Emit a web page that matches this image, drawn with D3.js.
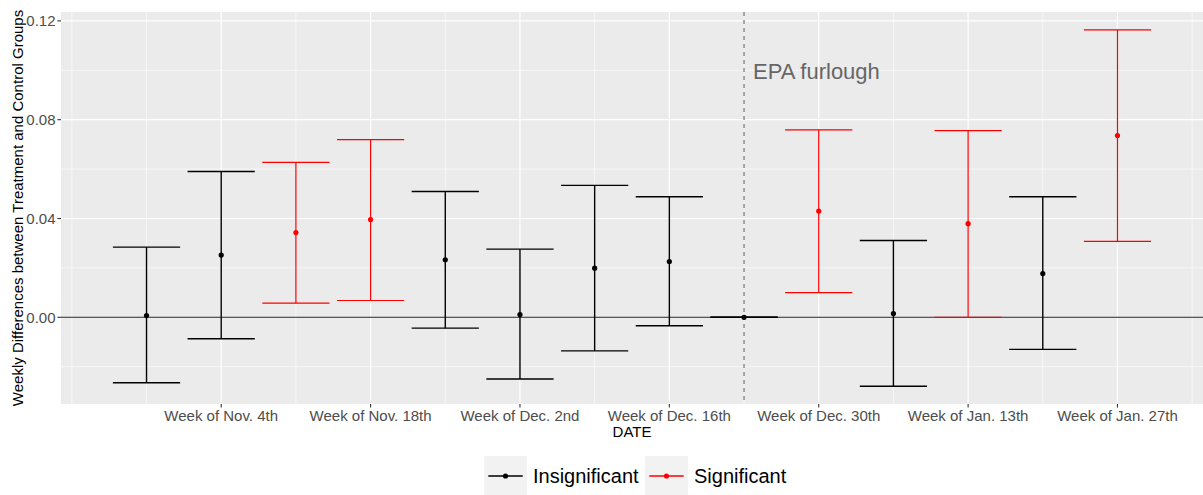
<!DOCTYPE html>
<html>
<head>
<meta charset="utf-8">
<script src="https://cdn.jsdelivr.net/npm/d3@7"></script>
<style>
  body { margin: 0; background: #fff; }
  svg { display: block; font-family: "Liberation Sans", Arial, sans-serif; }
</style>
</head>
<body>
<div id="chart"></div>
<script>
// weekly estimates, one per week (week starting date)
var weeks = ["2018-10-28","2018-11-04","2018-11-11","2018-11-18","2018-11-25","2018-12-02","2018-12-09",
             "2018-12-16","2018-12-23","2018-12-30","2019-01-06","2019-01-13","2019-01-20","2019-01-27"];
var estimate = [0.0007, 0.0252, 0.0343, 0.0396, 0.0233, 0.0011, 0.0199, 0.0226, 0.0, 0.0430, 0.0015, 0.0379, 0.0177, 0.0736];
var upper    = [0.0284, 0.0590, 0.0627, 0.0719, 0.0509, 0.0276, 0.0534, 0.0488, 0.0, 0.0759, 0.0311, 0.0756, 0.0488, 0.1164];
var lower    = [-0.0265, -0.0087, 0.0057, 0.0068, -0.0044, -0.0250, -0.0136, -0.0034, 0.0, 0.0100, -0.0279, 0.0, -0.0130, 0.0307];
var signif   = ["Insignificant","Insignificant","Significant","Significant","Insignificant","Insignificant","Insignificant",
                "Insignificant","Insignificant","Significant","Insignificant","Significant","Insignificant","Significant"];

var tickDates  = ["2018-11-04","2018-11-18","2018-12-02","2018-12-16","2018-12-30","2019-01-13","2019-01-27"];
var tickLabels = ["Week of Nov. 4th","Week of Nov. 18th","Week of Dec. 2nd","Week of Dec. 16th",
                  "Week of Dec. 30th","Week of Jan. 13th","Week of Jan. 27th"];
var minorDates = ["2018-10-21","2018-10-28","2018-11-11","2018-11-25","2018-12-09","2018-12-23",
                  "2019-01-06","2019-01-20","2019-02-03"];
var yMajor = [0.00, 0.04, 0.08, 0.12];
var yMinor = [-0.02, 0.02, 0.06, 0.10];

var furloughDate = "2018-12-23";
var groups = ["Insignificant","Significant"];
var groupColors = ["#000000","#ff0000"];

var width = 1203, height = 495;
var panel = {left: 61, right: 1203, top: 12, bottom: 404};
var parse = d3.utcParse("%Y-%m-%d");
var WEEK = 7*24*3600*1000;

var data = weeks.map(function(w, i){
  return {date: parse(w), est: estimate[i], lo: lower[i], hi: upper[i], grp: signif[i]};
});

var first = data[0].date, last = data[data.length-1].date;
var pad = 1.145*WEEK;
var x = d3.scaleUtc()
  .domain([new Date(+first - pad), new Date(+last + pad)])
  .range([panel.left, panel.right]);
var y = d3.scaleLinear()
  .domain([-0.0351, 0.1236])
  .range([panel.bottom, panel.top]);
var color = d3.scaleOrdinal().domain(groups).range(groupColors);

var svg = d3.select("#chart").append("svg")
  .attr("width", width)
  .attr("height", height);

// panel background
svg.append("rect")
  .attr("x", panel.left).attr("y", panel.top)
  .attr("width", panel.right - panel.left)
  .attr("height", panel.bottom - panel.top)
  .attr("fill", "#ebebeb");

var grid = svg.append("g");
grid.selectAll(".ymin").data(yMinor).enter().append("line")
  .attr("x1", panel.left).attr("x2", panel.right)
  .attr("y1", function(d){ return y(d); }).attr("y2", function(d){ return y(d); })
  .attr("stroke", "#fff").attr("stroke-width", 0.6);
grid.selectAll(".xmin").data(minorDates).enter().append("line")
  .attr("x1", function(d){ return x(parse(d)); }).attr("x2", function(d){ return x(parse(d)); })
  .attr("y1", panel.top).attr("y2", panel.bottom)
  .attr("stroke", "#fff").attr("stroke-width", 0.6);
grid.selectAll(".ymaj").data(yMajor).enter().append("line")
  .attr("x1", panel.left).attr("x2", panel.right)
  .attr("y1", function(d){ return y(d); }).attr("y2", function(d){ return y(d); })
  .attr("stroke", "#fff").attr("stroke-width", 1.2);
grid.selectAll(".xmaj").data(tickDates).enter().append("line")
  .attr("x1", function(d){ return x(parse(d)); }).attr("x2", function(d){ return x(parse(d)); })
  .attr("y1", panel.top).attr("y2", panel.bottom)
  .attr("stroke", "#fff").attr("stroke-width", 1.2);

// zero reference line
svg.append("line")
  .attr("x1", panel.left).attr("x2", panel.right)
  .attr("y1", y(0)).attr("y2", y(0))
  .attr("stroke", "#222").attr("stroke-width", 1.1);

// error bars
var capHalf = (x(new Date(+first + WEEK)) - x(first)) * 0.45;
var bars = svg.append("g").selectAll("g").data(data).enter().append("g")
  .attr("stroke", function(d){ return color(d.grp); })
  .attr("stroke-width", function(d){ return d.grp == "Significant" ? 1.2 : 1.4; });
bars.append("line")
  .attr("x1", function(d){ return x(d.date); }).attr("x2", function(d){ return x(d.date); })
  .attr("y1", function(d){ return y(d.lo); }).attr("y2", function(d){ return y(d.hi); });
bars.append("line")
  .attr("x1", function(d){ return x(d.date) - capHalf; }).attr("x2", function(d){ return x(d.date) + capHalf; })
  .attr("y1", function(d){ return y(d.hi); }).attr("y2", function(d){ return y(d.hi); });
bars.append("line")
  .attr("x1", function(d){ return x(d.date) - capHalf; }).attr("x2", function(d){ return x(d.date) + capHalf; })
  .attr("y1", function(d){ return y(d.lo); }).attr("y2", function(d){ return y(d.lo); });

// furlough marker
svg.append("line")
  .attr("x1", x(parse(furloughDate))).attr("x2", x(parse(furloughDate)))
  .attr("y1", panel.top).attr("y2", panel.bottom)
  .attr("stroke", "#8c8c8c").attr("stroke-width", 1.5)
  .attr("stroke-dasharray", "4,4");

svg.append("g").selectAll("circle").data(data).enter().append("circle")
  .attr("cx", function(d){ return x(d.date); })
  .attr("cy", function(d){ return y(d.est); })
  .attr("r", 2.6)
  .attr("fill", function(d){ return color(d.grp); });

svg.append("text")
  .attr("x", x(parse(furloughDate)) + 9)
  .attr("y", 79)
  .attr("font-size", 22)
  .attr("fill", "#666")
  .text("EPA furlough");

// axes
var yAxis = svg.append("g");
yAxis.selectAll("line").data(yMajor).enter().append("line")
  .attr("x1", panel.left - 3.6).attr("x2", panel.left)
  .attr("y1", function(d){ return y(d); }).attr("y2", function(d){ return y(d); })
  .attr("stroke", "#333").attr("stroke-width", 1.1);
yAxis.selectAll("text").data(yMajor).enter().append("text")
  .attr("x", panel.left - 5.5)
  .attr("y", function(d){ return y(d); })
  .attr("dy", "0.36em")
  .attr("text-anchor", "end")
  .attr("font-size", 15)
  .attr("fill", "#4d4d4d")
  .text(function(d){ return d3.format(".2f")(d); });

var xAxis = svg.append("g");
xAxis.selectAll("line").data(tickDates).enter().append("line")
  .attr("x1", function(d){ return x(parse(d)); }).attr("x2", function(d){ return x(parse(d)); })
  .attr("y1", panel.bottom).attr("y2", panel.bottom + 3.6)
  .attr("stroke", "#333").attr("stroke-width", 1.1);
xAxis.selectAll("text").data(tickDates).enter().append("text")
  .attr("x", function(d){ return x(parse(d)); })
  .attr("y", 421)
  .attr("text-anchor", "middle")
  .attr("font-size", 15)
  .attr("fill", "#4d4d4d")
  .text(function(d, i){ return tickLabels[i]; });

svg.append("text")
  .attr("x", (panel.left + panel.right)/2)
  .attr("y", 437)
  .attr("text-anchor", "middle")
  .attr("font-size", 15)
  .attr("fill", "#000")
  .text("DATE");

svg.append("text")
  .attr("transform", "translate(23," + (panel.top + panel.bottom)/2 + ") rotate(-90)")
  .attr("text-anchor", "middle")
  .attr("font-size", 15)
  .attr("fill", "#000")
  .text("Weekly Differences between Treatment and Control Groups");

// legend
var legend = svg.append("g");
var legendX = [484, 645];
groups.forEach(function(g, i){
  var lg = legend.append("g").attr("transform", "translate(" + legendX[i] + ",456)");
  lg.append("rect").attr("width", 43).attr("height", 40).attr("fill", "#f2f2f2");
  lg.append("line").attr("x1", 4.3).attr("x2", 38.7).attr("y1", 20).attr("y2", 20)
    .attr("stroke", color(g)).attr("stroke-width", 1.3);
  lg.append("circle").attr("cx", 21.5).attr("cy", 20).attr("r", 2.6).attr("fill", color(g));
  lg.append("text").attr("x", 49).attr("y", 20).attr("dy", "0.36em")
    .attr("font-size", 20).attr("fill", "#000").text(g);
});
</script>
</body>
</html>
